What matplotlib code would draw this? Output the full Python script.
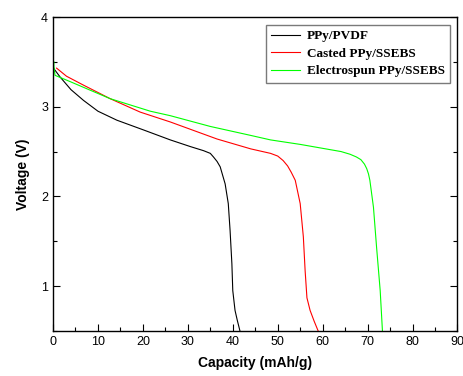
import matplotlib.pyplot as plt
from matplotlib.ticker import MultipleLocator

# discharge curves
black_x = [0.1, 1.6, 4, 6.8, 10, 14.2, 20.2, 26.1, 28.5, 30.6, 33.5, 35.0, 35.7,
           36.5, 37.2, 38.3, 39.0, 39.4, 39.8, 40.0, 40.5, 41.0, 41.6]
black_v = [3.43, 3.33, 3.19, 3.07, 2.95, 2.85, 2.74, 2.63, 2.59, 2.555, 2.51, 2.48,
           2.44, 2.39, 2.33, 2.14, 1.92, 1.62, 1.25, 0.95, 0.73, 0.62, 0.50]

red_x = [0.8, 3, 6.8, 12.7, 19.4, 26.1, 36.5, 44, 48.4, 50.0, 51.2, 52.2, 53.0,
         53.9, 55.0, 55.7, 56.1, 56.5, 57.2, 58.1, 59.0]
red_v = [3.43, 3.34, 3.24, 3.09, 2.94, 2.83, 2.64, 2.53, 2.48, 2.45, 2.40, 2.34,
         2.27, 2.18, 1.92, 1.55, 1.17, 0.87, 0.73, 0.61, 0.50]

green_x = [0.2, 0.2, 0.45, 3.8, 8, 12.7, 21.65, 26.1, 35, 44, 48.4, 55, 64.1,
           66.1, 67.5, 68.5, 69.3, 69.8, 70.2, 70.5, 71.3, 72.0, 72.8, 73.3]
green_v = [3.50, 3.45, 3.35, 3.28, 3.19, 3.09, 2.95, 2.90, 2.78, 2.68, 2.63, 2.58,
           2.50, 2.47, 2.44, 2.41, 2.36, 2.31, 2.25, 2.18, 1.88, 1.43, 0.95, 0.50]

labels = ['PPy/PVDF', 'Casted PPy/SSEBS', 'Electrospun PPy/SSEBS']

fig = plt.figure(figsize=(4.64, 3.76), dpi=100)
ax = fig.add_axes([53/464, 1-331/376, (457.5-53)/464, (331-17)/376])

ax.plot(black_x, black_v, color='black', lw=0.8, label=labels[0])
ax.plot(red_x, red_v, color='#ff0000', lw=0.8, label=labels[1])
ax.plot(green_x, green_v, color='#00ff00', lw=0.8, label=labels[2])

ax.set_xlim(0, 90)
ax.set_ylim(0.5, 4)
ax.xaxis.set_major_locator(MultipleLocator(10))
ax.xaxis.set_minor_locator(MultipleLocator(5))
ax.yaxis.set_major_locator(MultipleLocator(1))
ax.yaxis.set_minor_locator(MultipleLocator(0.5))
ax.tick_params(which='both', direction='in', right=True, top=False,
               labelsize=9, width=0.8)
ax.tick_params(which='major', length=5)
ax.tick_params(which='minor', length=3)
for lab in ax.get_xticklabels() + ax.get_yticklabels():
    lab.set_family('Liberation Sans')
for s in ax.spines.values():
    s.set_linewidth(1.0)

ax.set_xlabel('Capacity (mAh/g)', fontsize=10, fontweight='bold',
              family='Liberation Sans', labelpad=6)
ax.set_ylabel('Voltage (V)', fontsize=10, fontweight='bold',
              family='Liberation Sans', labelpad=8)

leg = ax.legend(loc='upper right', bbox_to_anchor=(0.981, 0.975),
                borderaxespad=0, fancybox=False, handlelength=2.2,
                handletextpad=0.5, labelspacing=0.4, borderpad=0.4,
                prop={'family': 'Liberation Serif', 'weight': 'bold', 'size': 9.5})
leg.get_frame().set_edgecolor('0.35')
leg.get_frame().set_linewidth(1.0)

plt.savefig('out.png', dpi=100)
